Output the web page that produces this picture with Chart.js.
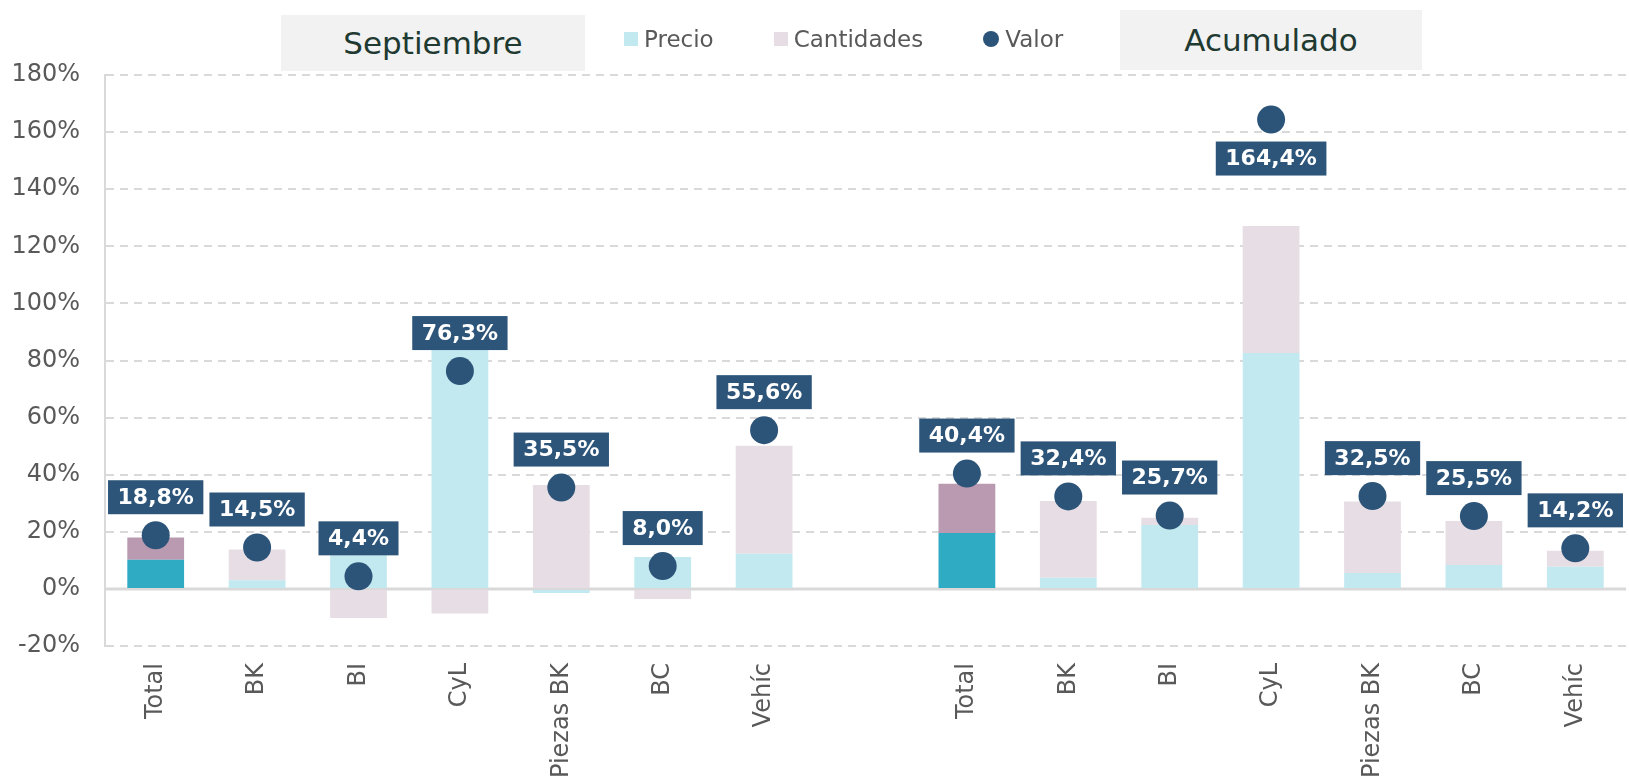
<!DOCTYPE html>
<html>
<head>
<meta charset="utf-8">
<script src="https://cdn.jsdelivr.net/npm/chart.js@4.4.1/dist/chart.umd.min.js"></script>
<style>
  html, body { margin: 0; padding: 0; background: #fff; overflow: hidden; }
  #wrap { position: relative; width: 1640px; height: 780px; }
  .title-box {
    position: absolute; background: #f2f2f2; color: #213a31;
    font: 31px "DejaVu Sans"; display: flex; align-items: center; justify-content: center;
  }
  #legend {
    position: absolute; left: 624px; top: 22px; height: 34px;
    display: flex; align-items: center; gap: 60px;
    font: 23px "DejaVu Sans"; color: #595959;
  }
  #legend .item { display: flex; align-items: center; gap: 6px; }
  #legend .mark { display: inline-block; width: 14px; height: 14px; }
  #legend .mark.dot { width: 16px; height: 16px; border-radius: 50%; }
</style>
</head>
<body>
<div id="wrap">
  <canvas id="chart"></canvas>
  <div class="title-box" style="left:281px; top:15px; width:304px; height:56px;">Septiembre</div>
  <div class="title-box" style="left:1120px; top:10px; width:302px; height:60px;">Acumulado</div>
  <div id="legend"></div>
</div>
<script>
// data (values in %)
const categories = ["Total", "BK", "BI", "CyL", "Piezas BK", "BC", "Vehíc", "",
                    "Total", "BK", "BI", "CyL", "Piezas BK", "BC", "Vehíc"];
const precio     = [10.2, 3.0, 11.8, 84.5, -1.4, 11.2, 12.3, null,
                    19.6, 3.9, 22.4, 82.6, 5.6, 8.4, 7.8];
const cantidades = [7.8, 10.8, -10.2, -8.6, 36.4, -3.5, 37.8, null,
                    17.2, 26.9, 2.5, 44.5, 25.0, 15.4, 5.6];
const valor      = [18.8, 14.5, 4.4, 76.3, 35.5, 8.0, 55.6, null,
                    40.4, 32.4, 25.7, 164.4, 32.5, 25.5, 14.2];
const yMin = -20, yMax = 180, yStep = 20;

const precioColors = categories.map(c => c === "Total" ? "#2fabc4" : "#c3e9f0");
const cantColors = categories.map(c => c === "Total" ? "#b99ab1" : "#e7dee5");

const fmt = v => v.toFixed(1).replace(".", ",") + "%";

Chart.defaults.font.family = '"DejaVu Sans"';
Chart.defaults.color = "#595959";

// solid zero line over the dashed grid
const zeroLine = {
  id: "zeroLine",
  beforeDatasetsDraw(chart) {
    const { ctx, chartArea } = chart;
    const y = chart.scales.y.getPixelForValue(0);
    ctx.save();
    ctx.strokeStyle = "#d9d9d9";
    ctx.lineWidth = 3;
    ctx.beginPath();
    ctx.moveTo(chartArea.left, y);
    ctx.lineTo(chartArea.right, y);
    ctx.stroke();
    ctx.restore();
  }
};

// boxed value labels for the Valor dots
const valueLabels = {
  id: "valueLabels",
  afterDatasetsDraw(chart) {
    const { ctx, chartArea } = chart;
    const meta = chart.getDatasetMeta(2);
    ctx.save();
    ctx.font = 'bold 22px "DejaVu Sans"';
    ctx.textAlign = "center";
    ctx.textBaseline = "middle";
    meta.data.forEach((pt, i) => {
      const v = valor[i];
      if (v == null) return;
      const text = fmt(v);
      const w = ctx.measureText(text).width + 19;
      const h = 34;
      let cy = pt.y - 38;
      if (cy - h / 2 < chartArea.top) cy = pt.y + 39;
      ctx.fillStyle = "#2d5579";
      ctx.fillRect(pt.x - w / 2, cy - h / 2, w, h);
      ctx.fillStyle = "#ffffff";
      ctx.fillText(text, pt.x, cy + 1);
    });
    ctx.restore();
  }
};

const chart = new Chart(document.getElementById("chart"), {
  data: {
    labels: categories,
    datasets: [
      {
        type: "bar",
        label: "Precio",
        data: precio,
        backgroundColor: precioColors,
        legendColor: "#c3e9f0",
        stack: "s",
        order: 1,
        barPercentage: 0.56,
        categoryPercentage: 1
      },
      {
        type: "bar",
        label: "Cantidades",
        data: cantidades,
        backgroundColor: cantColors,
        legendColor: "#e7dee5",
        stack: "s",
        order: 1,
        barPercentage: 0.56,
        categoryPercentage: 1
      },
      {
        type: "line",
        label: "Valor",
        data: valor,
        showLine: false,
        pointRadius: 14,
        pointHoverRadius: 14,
        pointBackgroundColor: "#2c5478",
        pointBorderWidth: 0,
        legendColor: "#2c5478",
        order: 0
      }
    ]
  },
  options: {
    responsive: true,
    maintainAspectRatio: false,
    animation: false,
    layout: { padding: { top: 75, right: 6, left: 0, bottom: 0 } },
    plugins: {
      legend: { display: false },
      tooltip: { enabled: false }
    },
    scales: {
      x: {
        stacked: true,
        grid: { display: false, drawTicks: false },
        border: { display: false },
        ticks: {
          autoSkip: false,
          maxRotation: 90,
          minRotation: 90,
          padding: 17,
          font: { size: 24 },
          color: "#595959"
        },
        afterFit: s => { s.height = 134; }
      },
      y: {
        stacked: true,
        min: yMin,
        max: yMax,
        grid: { color: "#d9d9d9", lineWidth: 2, drawTicks: false },
        border: { display: true, color: "#d9d9d9", width: 2, dash: [8, 6] },
        ticks: {
          stepSize: yStep,
          padding: 25,
          font: { size: 24 },
          color: "#595959",
          callback: v => v + "%"
        },
        afterFit: s => { s.width = 105; }
      }
    }
  },
  plugins: [zeroLine, valueLabels]
});

// legend built from the datasets
const legendEl = document.getElementById("legend");
chart.data.datasets.forEach(ds => {
  const item = document.createElement("div");
  item.className = "item";
  const mark = document.createElement("span");
  mark.className = "mark" + (ds.type === "line" ? " dot" : "");
  mark.style.background = ds.legendColor;
  item.appendChild(mark);
  item.appendChild(document.createTextNode(ds.label));
  legendEl.appendChild(item);
});
</script>
</body>
</html>
